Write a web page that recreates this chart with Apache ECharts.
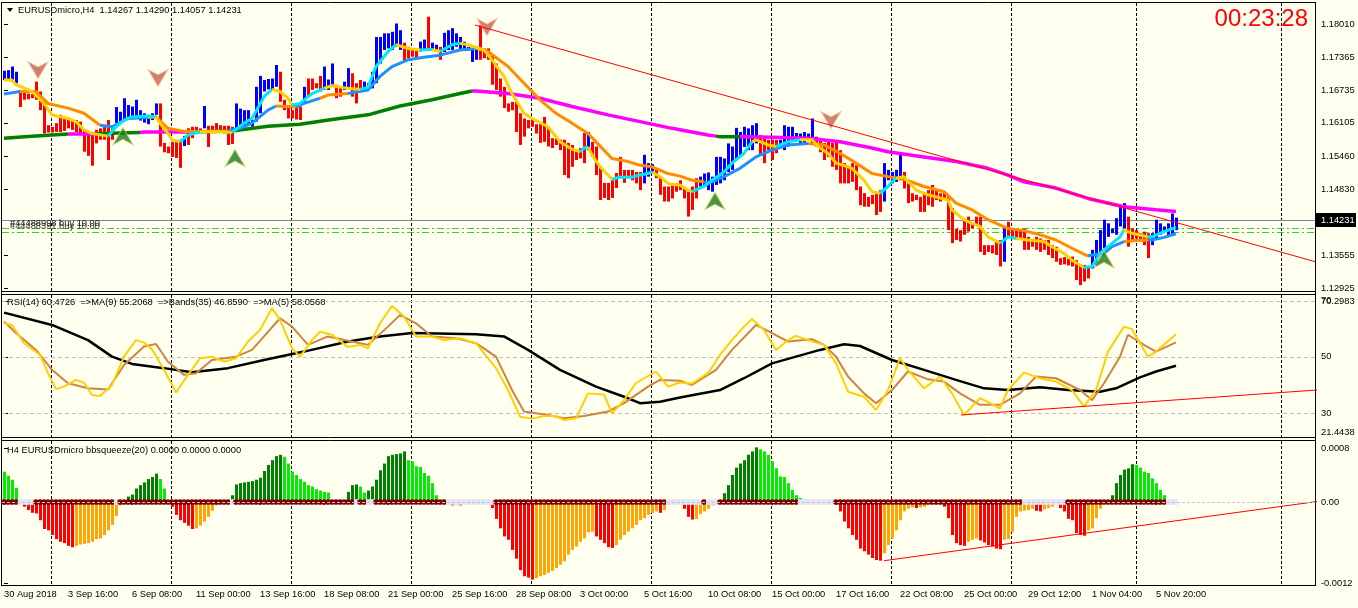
<!DOCTYPE html>
<html>
<head>
<meta charset="utf-8">
<script src="https://cdn.jsdelivr.net/npm/echarts@6.0.0/dist/echarts.min.js"></script>
<style>
html,body{margin:0;padding:0;background:#FFFFF0;overflow:hidden}
#chart{width:1358px;height:608px}
</style>
</head>
<body>
<div id="chart"></div>
<script>
// ---------------- DATA ----------------
const symbolTitle = "EURUSDmicro,H4  1.14267 1.14290 1.14057 1.14231";
const clockText = "00:23:28";
const rsiCaption = "RSI(14) 60.4726  =>MA(9) 55.2068  =>Bands(35) 46.8590  =>MA(5) 58.0568";
const histCaption = "H4 EURUSDmicro bbsqueeze(20) 0.0000 0.0000 0.0000";
const orderTexts = ["#44488998 buy 10.00", "#44488391 buy 10.00"];

const timeIdx = [0,16,32,48,64,80,96,112,128,144,160,176,192,208,224,240,256,272,288];
const timeLabels = ["30 Aug 2018","3 Sep 16:00","6 Sep 08:00","11 Sep 00:00","13 Sep 16:00","18 Sep 08:00","21 Sep 00:00","25 Sep 16:00","28 Sep 08:00","3 Oct 00:00","5 Oct 16:00","10 Oct 08:00","15 Oct 00:00","17 Oct 16:00","22 Oct 08:00","25 Oct 00:00","29 Oct 12:00","1 Nov 04:00","5 Nov 20:00"];
const gridLineIdx = [11.75,41.75,71.75,101.75,131.75,161.75,191.75,221.75,251.75,283,319.25];

const priceTicks = [1.18010,1.17365,1.16735,1.16105,1.15460,1.14830,1.13555,1.12925];
const rsiTicks = [70,50,30];
const rsiMax = 70.2983, rsiMin = 21.4438;
const rsiLevels = [70,50,30];
const histTicks = [0.0008,0,-0.0012];
const lastPrice = 1.14231;
const orderLevels = [1.14081,1.14004];

// Heiken-Ashi style bars: top / bottom of each bar, direction b=up(blue) r=down(red)
const barHigh = [
1.1711,1.1712,1.1719,1.1709,1.1674,1.1671,1.1667,1.1666,1.1690,1.1671,
1.1655,1.1606,1.1603,1.1610,1.1626,1.1622,1.1619,1.1616,1.1616,1.1613,
1.1597,1.1590,1.1593,1.1597,1.1600,1.1605,1.1616,1.1600,1.1641,1.1632,
1.1658,1.1645,1.1642,1.1655,1.1635,1.1629,1.1626,1.1629,1.1648,1.1648,
1.1572,1.1565,1.1574,1.1578,1.1578,1.1585,1.1600,1.1603,1.1603,1.1600,
1.1643,1.1605,1.1605,1.1610,1.1606,1.1605,1.1605,1.1603,1.1648,1.1638,
1.1635,1.1635,1.1616,1.1680,1.1701,1.1693,1.1695,1.1696,1.1722,1.1709,
1.1655,1.1642,1.1635,1.1648,1.1642,1.1680,1.1696,1.1696,1.1687,1.1701,
1.1719,1.1694,1.1725,1.1684,1.1680,1.1690,1.1716,1.1706,1.1687,1.1693,
1.1690,1.1687,1.1709,1.1776,1.1776,1.1783,1.1783,1.1786,1.1802,1.1789,
1.1765,1.1757,1.1754,1.1752,1.1767,1.1771,1.1815,1.1765,1.1761,1.1757,
1.1784,1.1789,1.1793,1.1783,1.1776,1.1767,1.1757,1.1754,1.1751,1.1799,
1.1754,1.1754,1.1741,1.1725,1.1696,1.1680,1.1648,1.1651,1.1651,1.1629,
1.1619,1.1616,1.1616,1.1608,1.1608,1.1622,1.1600,1.1581,1.1581,1.1578,
1.1578,1.1572,1.1568,1.1558,1.1562,1.1591,1.1593,1.1574,1.1565,1.1526,
1.1495,1.1495,1.1500,1.1514,1.1545,1.1520,1.1520,1.1520,1.1516,1.1516,
1.1549,1.1533,1.1531,1.1523,1.1507,1.1488,1.1488,1.1494,1.1494,1.1500,
1.1484,1.1478,1.1488,1.1504,1.1507,1.1513,1.1515,1.1507,1.1545,1.1545,
1.1542,1.1571,1.1565,1.1601,1.1593,1.1603,1.1600,1.1606,1.1610,1.1587,
1.1581,1.1578,1.1578,1.1578,1.1578,1.1606,1.1603,1.1603,1.1591,1.1590,
1.1593,1.1590,1.1619,1.1584,1.1578,1.1572,1.1578,1.1572,1.1572,1.1558,
1.1533,1.1526,1.1533,1.1529,1.1488,1.1475,1.1468,1.1472,1.1475,1.1481,
1.1533,1.1520,1.1516,1.1520,1.1552,1.1516,1.1494,1.1475,1.1472,1.1468,
1.1475,1.1481,1.1491,1.1481,1.1475,1.1475,1.1472,1.1446,1.1407,1.1404,
1.1424,1.1430,1.1417,1.1430,1.1430,1.1375,1.1375,1.1375,1.1382,1.1385,
1.1411,1.1420,1.1407,1.1404,1.1404,1.1407,1.1391,1.1385,1.1391,1.1388,
1.1385,1.1385,1.1375,1.1372,1.1350,1.1352,1.1349,1.1353,1.1346,1.1337,
1.1337,1.1335,1.1366,1.1385,1.1404,1.1424,1.1417,1.1407,1.1427,1.1449,
1.1456,1.1430,1.1407,1.1404,1.1398,1.1401,1.1398,1.1398,1.1424,1.1417,
1.1411,1.1417,1.1436,1.1428];
const barLow = [
1.1693,1.1693,1.1690,1.1687,1.1641,1.1655,1.1656,1.1658,1.1655,1.1635,
1.1590,1.1592,1.1592,1.1593,1.1593,1.1595,1.1600,1.1597,1.1593,1.1590,
1.1555,1.1547,1.1528,1.1571,1.1578,1.1578,1.1539,1.1578,1.1610,1.1613,
1.1616,1.1619,1.1621,1.1619,1.1615,1.1611,1.1608,1.1616,1.1626,1.1565,
1.1554,1.1552,1.1545,1.1543,1.1524,1.1566,1.1568,1.1581,1.1590,1.1592,
1.1600,1.1564,1.1593,1.1595,1.1593,1.1590,1.1568,1.1570,1.1597,1.1598,
1.1603,1.1608,1.1603,1.1613,1.1629,1.1671,1.1675,1.1674,1.1680,1.1651,
1.1635,1.1619,1.1619,1.1617,1.1616,1.1648,1.1661,1.1674,1.1677,1.1671,
1.1674,1.1674,1.1684,1.1658,1.1661,1.1674,1.1677,1.1661,1.1648,1.1671,
1.1677,1.1674,1.1677,1.1687,1.1725,1.1751,1.1754,1.1751,1.1757,1.1751,
1.1728,1.1735,1.1738,1.1737,1.1748,1.1751,1.1751,1.1751,1.1748,1.1732,
1.1747,1.1751,1.1751,1.1757,1.1751,1.1751,1.1750,1.1728,1.1732,1.1732,
1.1735,1.1732,1.1684,1.1674,1.1661,1.1639,1.1632,1.1635,1.1593,1.1568,
1.1584,1.1600,1.1603,1.1590,1.1572,1.1574,1.1565,1.1562,1.1568,1.1558,
1.1510,1.1504,1.1526,1.1539,1.1542,1.1533,1.1558,1.1545,1.1510,1.1462,
1.1466,1.1462,1.1466,1.1485,1.1507,1.1495,1.1507,1.1500,1.1494,1.1481,
1.1494,1.1507,1.1513,1.1504,1.1472,1.1459,1.1459,1.1465,1.1478,1.1481,
1.1465,1.1430,1.1443,1.1465,1.1488,1.1488,1.1481,1.1478,1.1491,1.1494,
1.1500,1.1516,1.1520,1.1539,1.1545,1.1564,1.1558,1.1558,1.1571,1.1549,
1.1533,1.1558,1.1539,1.1552,1.1564,1.1558,1.1565,1.1574,1.1578,1.1571,
1.1571,1.1578,1.1571,1.1565,1.1554,1.1539,1.1545,1.1526,1.1520,1.1494,
1.1494,1.1494,1.1497,1.1481,1.1452,1.1449,1.1449,1.1454,1.1433,1.1439,
1.1459,1.1500,1.1494,1.1497,1.1500,1.1484,1.1456,1.1459,1.1462,1.1439,
1.1439,1.1452,1.1449,1.1462,1.1459,1.1465,1.1404,1.1379,1.1385,1.1382,
1.1395,1.1401,1.1407,1.1414,1.1362,1.1356,1.1362,1.1359,1.1356,1.1334,
1.1343,1.1391,1.1391,1.1388,1.1385,1.1366,1.1366,1.1372,1.1366,1.1362,
1.1366,1.1356,1.1350,1.1343,1.1337,1.1338,1.1336,1.1334,1.1308,1.1298,
1.1305,1.1311,1.1330,1.1337,1.1359,1.1369,1.1391,1.1398,1.1395,1.1411,
1.1407,1.1372,1.1385,1.1388,1.1385,1.1375,1.1350,1.1375,1.1385,1.1395,
1.1401,1.1391,1.1395,1.1404];
const barDir = ["bbbbrrrrrr","rrrrrrrrrr","rrrrrrrrbb","bbbbbbbbbr","rrrrrbrrrr","brrrrrrrbb","bbbbbbbbbr","rrrrrbrrrr","bbbrrbbrrr","bbbbbbbbbb",
"rrrrbbrbbr","bbbbbbbbbr","rrrrrrrrrr","rrrrrrrrrr","rrrrrrbrrr","rrrrrrrrrr","bbbrrrrrrr","rrrrbbbbbb","bbbbbbbbbr","rrrrbbbbbb",
"bbbrrrrrrr","rrrrrrrrrr","bbbbbrrrrr","rrrrrrrrrr","rrrrrrrrrr","brrrrrrrrr","rrrrrrrrrr","rrbbbbbbbb","brrrrrrbbb","bbbb"].join('');

// moving averages: [bar, price, state u=rising d=falling]
const fastMA = [[0,1.1693,'u'],[2,1.1693,'d'],[3,1.1684,'d'],[7,1.1671,'d'],[10,1.1648,'d'],[12,1.1626,'d'],[16,1.1619,'d'],[18,1.1613,'d'],[20,1.1597,'d'],[22,1.1590,'d'],[26,1.1585,'d'],[28,1.1603,'u'],[30,1.1616,'u'],[32,1.1622,'u'],[36,1.1624,'u'],[38,1.1622,'u'],[39,1.1610,'d'],[41,1.1590,'d'],[42,1.1578,'d'],[44,1.1574,'d'],[46,1.1587,'u'],[49,1.1593,'u'],[53,1.1594,'d'],[57,1.1592,'d'],[60,1.1610,'u'],[62,1.1619,'u'],[65,1.1661,'u'],[67,1.1675,'u'],[69,1.1671,'d'],[71,1.1658,'d'],[72,1.1645,'d'],[74,1.1648,'u'],[77,1.1667,'u'],[80,1.1677,'u'],[82,1.1682,'d'],[86,1.1677,'d'],[89,1.1675,'d'],[91,1.1679,'u'],[93,1.1719,'u'],[96,1.1748,'u'],[98,1.1761,'u'],[101,1.1754,'d'],[104,1.1751,'d'],[107,1.1752,'u'],[109,1.1748,'d'],[112,1.1761,'u'],[114,1.1764,'u'],[116,1.1761,'d'],[120,1.1751,'d'],[122,1.1732,'d'],[125,1.1700,'d'],[127,1.1667,'d'],[130,1.1629,'d'],[132,1.1619,'d'],[136,1.1603,'d'],[138,1.1584,'d'],[139,1.1574,'d'],[142,1.1560,'d'],[144,1.1555,'d'],[145,1.1562,'u'],[146,1.1564,'u'],[147,1.1549,'d'],[149,1.1526,'d'],[151,1.1510,'d'],[152,1.1502,'d'],[154,1.1506,'u'],[157,1.1506,'u'],[159,1.1510,'u'],[161,1.1513,'u'],[162,1.1516,'u'],[164,1.1507,'d'],[166,1.1494,'d'],[167,1.1492,'d'],[169,1.1491,'d'],[171,1.1481,'d'],[172,1.1478,'d'],[175,1.1488,'u'],[177,1.1500,'u'],[180,1.1516,'u'],[182,1.1533,'u'],[185,1.1552,'u'],[187,1.1574,'u'],[188,1.1578,'d'],[191,1.1568,'d'],[193,1.1565,'d'],[196,1.1574,'u'],[199,1.1578,'u'],[202,1.1578,'d'],[204,1.1562,'d'],[206,1.1552,'d'],[208,1.1533,'d'],[211,1.1526,'d'],[212,1.1523,'d'],[215,1.1500,'d'],[217,1.1478,'d'],[219,1.1475,'d'],[221,1.1488,'u'],[222,1.1497,'u'],[223,1.1504,'u'],[225,1.1507,'d'],[228,1.1481,'d'],[231,1.1472,'d'],[233,1.1468,'d'],[236,1.1462,'d'],[237,1.1443,'d'],[240,1.1424,'d'],[242,1.1417,'d'],[244,1.1411,'d'],[246,1.1391,'d'],[249,1.1379,'d'],[251,1.1391,'u'],[253,1.1388,'u'],[256,1.1385,'d'],[260,1.1382,'d'],[262,1.1372,'d'],[265,1.1359,'d'],[267,1.1346,'d'],[270,1.1332,'d'],[272,1.1334,'u'],[274,1.1359,'u'],[276,1.1372,'u'],[279,1.1391,'u'],[280,1.1404,'u'],[282,1.1398,'d'],[286,1.1391,'d'],[287,1.1391,'u'],[290,1.1401,'u'],[293,1.1409,'u']];
const slowMA = [[0,1.1666,'u'],[4,1.1671,'u'],[8,1.1671,'d'],[11,1.1648,'d'],[16,1.1639,'d'],[20,1.1629,'d'],[24,1.1606,'d'],[27,1.1603,'u'],[31,1.1619,'u'],[36,1.1621,'u'],[38,1.1622,'d'],[41,1.1600,'d'],[45,1.1594,'d'],[49,1.1594,'d'],[56,1.1595,'d'],[59,1.1600,'u'],[62,1.1610,'u'],[66,1.1635,'u'],[68,1.1643,'u'],[71,1.1642,'d'],[73,1.1641,'d'],[75,1.1648,'u'],[79,1.1658,'u'],[81,1.1664,'d'],[86,1.1667,'d'],[91,1.1674,'u'],[94,1.1700,'u'],[97,1.1719,'u'],[101,1.1732,'u'],[105,1.1737,'u'],[109,1.1741,'u'],[114,1.1751,'u'],[118,1.1754,'u'],[121,1.1748,'d'],[126,1.1719,'d'],[130,1.1687,'d'],[134,1.1655,'d'],[138,1.1629,'d'],[142,1.1610,'d'],[146,1.1590,'d'],[148,1.1574,'d'],[152,1.1542,'d'],[156,1.1536,'d'],[159,1.1529,'d'],[162,1.1526,'d'],[166,1.1513,'d'],[169,1.1508,'d'],[172,1.1500,'d'],[175,1.1497,'d'],[176,1.1494,'u'],[180,1.1507,'u'],[184,1.1523,'u'],[188,1.1545,'u'],[192,1.1558,'u'],[196,1.1568,'u'],[201,1.1571,'u'],[205,1.1568,'d'],[209,1.1552,'d'],[213,1.1533,'d'],[217,1.1513,'d'],[221,1.1507,'d'],[225,1.1502,'d'],[230,1.1488,'d'],[235,1.1478,'d'],[238,1.1456,'d'],[242,1.1443,'d'],[246,1.1424,'d'],[251,1.1407,'d'],[255,1.1403,'d'],[259,1.1395,'d'],[263,1.1385,'d'],[267,1.1369,'d'],[271,1.1354,'d'],[272,1.1356,'u'],[275,1.1359,'u'],[277,1.1372,'u'],[280,1.1382,'u'],[283,1.1384,'d'],[286,1.1385,'d'],[287,1.1385,'u'],[290,1.1390,'u'],[293,1.1397,'u']];
const longMA = [[0,1.1581,'u'],[7,1.1585,'u'],[16,1.1589,'u'],[17,1.1589,'d'],[23,1.1589,'d'],[24,1.1590,'u'],[34,1.1592,'u'],[35,1.1593,'d'],[46,1.1593,'d'],[47,1.1593,'u'],[57,1.1595,'u'],[66,1.1604,'u'],[74,1.1608,'u'],[82,1.1617,'u'],[91,1.1626,'u'],[99,1.1643,'u'],[107,1.1655,'u'],[114,1.1667,'u'],[117,1.1672,'u'],[118,1.1672,'d'],[126,1.1667,'d'],[134,1.1658,'d'],[142,1.1642,'d'],[151,1.1626,'d'],[159,1.1613,'d'],[167,1.1600,'d'],[176,1.1587,'d'],[178,1.1585,'d'],[179,1.1584,'u'],[184,1.1584,'u'],[185,1.1584,'d'],[192,1.1583,'d'],[201,1.1581,'d'],[209,1.1574,'d'],[217,1.1562,'d'],[221,1.1555,'d'],[230,1.1545,'d'],[238,1.1536,'d'],[246,1.1523,'d'],[251,1.1510,'d'],[255,1.1497,'d'],[263,1.1485,'d'],[271,1.1465,'d'],[280,1.1449,'d'],[288,1.1443,'d'],[293,1.1440,'d']];

const sellArrows = [[8.5,1.1712],[38.5,1.1697],[120.75,1.1795],[206.75,1.1616]];
const buyArrows = [[29.75,1.1585],[57.75,1.1543],[177.75,1.1460],[275,1.1348]];
const priceTrend = [[117.75,1.1799],[327.75,1.13432]];

// RSI window
const rsiBands = [[0,65.8],[12,61.4],[21,56],[27,50.1],[32,47.5],[40,46],[47,44.5],[56,46],[65,48.9],[75,51.9],[86,55.5],[94,57.3],[102,58.5],[118,58.1],[125,57.3],[131,52.5],[139,45.4],[148,39.4],[155,35.8],[159,33.5],[164,34],[169,35.5],[179,38.2],[185,42.4],[192,47.7],[198,50.1],[204,52.5],[210,54.5],[214,53.9],[222,48.9],[230,45.4],[238,41.8],[245,38.8],[251,38.2],[259,39.2],[266,38.2],[274,37.6],[278,38.8],[284,42.7],[288,44.8],[293,46.86]];
const rsiMA9 = [[0,62.6],[3,58.5],[8,52.5],[12,45.4],[16,40.6],[21,38.8],[26,38.4],[30,47.1],[35,53.7],[38,54.6],[41,48.3],[45,43.6],[48,44.2],[52,48.9],[58,50.1],[62,52.5],[65,57.3],[69,63.8],[72,60.8],[76,54.3],[81,57.3],[86,55.8],[91,54.3],[96,60.8],[99,65],[103,62],[107,57.3],[113,56.7],[118,54.9],[123,50.1],[127,38.2],[130,30.5],[136,29.3],[140,28.1],[145,28.9],[151,30.5],[155,33.5],[161,39.4],[164,41.8],[169,41.5],[172,40],[178,45.4],[182,52.5],[188,61.4],[192,58.5],[196,55.5],[202,56.3],[205,54.3],[208,50.1],[211,43],[215,37],[218,33.5],[222,38.2],[226,44.8],[231,42],[235,41.2],[239,37],[244,32.9],[249,32.9],[254,37],[258,43],[263,42.4],[269,38.2],[272,34.6],[275,40.6],[279,50.1],[281,57.9],[285,54.3],[288,51.9],[293,55.2]];
const rsiMA5 = [[0,62],[2,61.4],[5,54.9],[9,50.7],[11,44.2],[13,38.5],[15,39.4],[18,41.8],[20,40.8],[22,36.4],[24,36.1],[27,40],[30,50.1],[33,56],[35,55.1],[37,52.7],[40,45.4],[43,37.3],[46,43.6],[49,49.5],[52,50.1],[55,48.3],[58,49.5],[61,55.5],[64,59.6],[67,67.4],[69,63.2],[72,53.1],[74,50.1],[77,56],[79,59],[82,57.9],[86,53.5],[89,54.3],[91,53.1],[94,62],[97,68.2],[100,64.4],[103,57.3],[107,57.3],[110,56],[114,56.7],[118,54.9],[123,46],[126,38.2],[129,28.7],[132,28],[135,28.9],[138,28.9],[140,27.5],[143,28.1],[146,37],[150,36.6],[152,29.9],[155,34.6],[158,40.7],[163,44.8],[166,39.4],[169,40.9],[172,40.5],[176,44.2],[179,50.7],[182,56],[185,60.8],[187,63.5],[190,59.6],[193,52.5],[196,56],[198,57.5],[201,56],[205,54.3],[208,47.7],[211,37.6],[215,35.8],[218,31.1],[221,38.2],[224,49.5],[226,45.4],[230,38.8],[234,43],[237,37],[240,29.3],[244,35.3],[249,31.7],[251,38.2],[255,44.4],[259,42.4],[263,41.2],[267,38.2],[270,32.3],[273,38.2],[276,51.9],[280,60.8],[282,59.9],[286,50.1],[288,51.9],[293,58.06]];
const rsiTrend = [[239.25,29.3],[328.25,38.2]];

// bbsqueeze window
const hist = [
0.00045,0.00039,0.00033,0.00021,0,-0.00007,-0.00012,-0.00016,-0.00017,-0.00027,
-0.00040,-0.00042,-0.00049,-0.00055,-0.00059,-0.00061,-0.00065,-0.00067,-0.00065,-0.00063,
-0.00062,-0.00061,-0.00059,-0.00055,-0.00054,-0.00049,-0.00042,-0.00034,-0.00021,-0.00005,
0.00003,0.00008,0.00011,0.00020,0.00025,0.00029,0.00034,0.00037,0.00042,0.00034,
0.00020,0,-0.00007,-0.00019,-0.00027,-0.00031,-0.00035,-0.00040,-0.00039,-0.00035,
-0.00029,-0.00022,-0.00013,-0.00005,-0.00003,0,0,0.00010,0.00026,0.00028,
0.00029,0.00030,0.00031,0.00033,0.00036,0.00046,0.00055,0.00062,0.00068,0.00070,
0.00067,0.00057,0.00045,0.00040,0.00034,0.00030,0.00025,0.00023,0.00019,0.00017,
0.00015,0.00014,0.00001,0,0,0,0.00015,0.00025,0.00026,0.00023,
0.00014,0.00017,0.00023,0.00033,0.00047,0.00057,0.00068,0.00070,0.00071,0.00072,
0.00075,0.00062,0.00060,0.00053,0.00052,0.00043,0.00039,0.00028,0.00010,0,
0,0,-0.00005,-0.00004,-0.00005,-0.00003,0,0,0.00002,0,
0,0,-0.00009,-0.00025,-0.00039,-0.00051,-0.00056,-0.00071,-0.00084,-0.00101,
-0.00110,-0.00112,-0.00115,-0.00113,-0.00110,-0.00108,-0.00105,-0.00102,-0.00098,-0.00093,
-0.00088,-0.00078,-0.00071,-0.00066,-0.00059,-0.00054,-0.00045,-0.00044,-0.00051,-0.00056,
-0.00061,-0.00067,-0.00068,-0.00064,-0.00056,-0.00049,-0.00044,-0.00039,-0.00034,-0.00027,
-0.00024,-0.00019,-0.00016,-0.00014,-0.00016,-0.00012,0,0,0,0,
-0.00010,-0.00022,-0.00026,-0.00025,-0.00018,-0.00014,-0.00010,-0.00005,-0.00002,0,
0.00013,0.00025,0.00040,0.00051,0.00057,0.00062,0.00070,0.00075,0.00081,0.00078,
0.00075,0.00070,0.00060,0.00050,0.00038,0.00037,0.00028,0.00018,0.00010,0.00006,
0.00004,0.00003,0,0,0,0,0,0,-0.00003,-0.00014,
-0.00029,-0.00039,-0.00049,-0.00056,-0.00069,-0.00073,-0.00078,-0.00083,-0.00086,-0.00087,
-0.00076,-0.00064,-0.00054,-0.00042,-0.00027,-0.00014,-0.00010,-0.00008,-0.00009,-0.00008,
-0.00007,0,0,0,0,-0.00007,-0.00024,-0.00049,-0.00061,-0.00064,
-0.00065,-0.00059,-0.00056,-0.00054,-0.00057,-0.00060,-0.00064,-0.00066,-0.00069,-0.00070,
-0.00056,-0.00055,-0.00044,-0.00022,-0.00014,-0.00013,-0.00012,-0.00010,-0.00013,-0.00014,
-0.00011,-0.00009,-0.00007,0,-0.00009,-0.00014,-0.00025,-0.00027,-0.00046,-0.00049,
-0.00050,-0.00042,-0.00039,-0.00024,-0.00010,0,0.00003,0.00010,0.00028,0.00040,
0.00048,0.00050,0.00056,0.00055,0.00051,0.00045,0.00043,0.00035,0.00028,0.00018,
0.00010,0,0,0];
// squeeze state per bar: r = squeeze on (dark red dot), l = off (lavender)
const squeeze = ["rrrrllllrr","rrrrrrrrrr","rrrrrrrrlr","rrrrrrrrrr","rrrrrrrrrr","rrrrrrrlrr","rrrrrrrrrr","rrrrrrrrrr","rrrrrrrrlr","rllrrrrrrr",
"rrrrrrrrrr","rlllllllll","lllrrrrrrr","rrrrrrrrrr","rrrrrrrrrr","rrrrrrrrrr","rrrrrrllll","lllllrlllr","rrrrrrrrrr","rrrrrrrrrl",
"llllllllrr","rrrrrrrrrr","rrrrrrrrrr","rrrrrrrrrr","rrrrrrrrrr","rrrrrlllll","llllllrrrr","rrrrrrrrrr","rrrrrrrrrr","rlll"].join('');
const histTrend = [[220,-0.00087],[328.25,0.0000074]];

// ---------------- CHART ----------------
const FONT = '"Liberation Sans", Arial, sans-serif';
const FS = 9.3;
const X0 = -0.5, X1 = 327.75;
const chart = echarts.init(document.getElementById('chart'), null, {renderer:'canvas'});

const C = {
  up:'#0000FF', down:'#FF0000',
  fastU:'#00E8F8', fastD:'#FFD000', slowU:'#1E90FF', slowD:'#FF8C00', longU:'#008000', longD:'#FF00FF',
  hGreen:'#008000', hLime:'#00EE00', hRed:'#FF0000', hOrange:'#FFA500'
};

function segSeries(pts, cu, cd, width, z){
  const out = []; let cur = null, st = null;
  for (let k = 1; k < pts.length; k++){
    const s = pts[k][2];
    if (s !== st){
      cur = {type:'line', xAxisIndex:0, yAxisIndex:0, data:[[pts[k-1][0], pts[k-1][1]]], symbol:'none', showSymbol:false,
             lineStyle:{color: s==='u'?cu:cd, width:width}, silent:true, animation:false, z:z};
      out.push(cur); st = s;
    }
    cur.data.push([pts[k][0], pts[k][1]]);
  }
  return out;
}

function histColor(i){
  const v = hist[i], p = i>0 ? hist[i-1] : 0;
  if (v >= 0) return (i===0 || v < p) ? C.hLime : C.hGreen;
  return v <= p ? C.hRed : C.hOrange;
}

const axisLbl = {color:'#000', fontSize:FS, fontFamily:FONT};
const option = {
  backgroundColor:'#FFFFF0',
  animation:false,
  grid:[
    {left:2, top:4, width:1313, height:287},
    {left:2, top:300, width:1313, height:137},
    {left:2, top:441, width:1313, height:144}
  ],
  xAxis:[
    {gridIndex:0, type:'value', min:X0, max:X1, show:false},
    {gridIndex:1, type:'value', min:X0, max:X1, show:false},
    {gridIndex:2, type:'value', min:X0, max:X1, position:'bottom',
     axisLine:{show:false}, splitLine:{show:false},
     axisTick:{show:true, customValues:timeIdx, length:3, lineStyle:{color:'#000'}},
     axisLabel:Object.assign({customValues:timeIdx, align:'left', margin:5,
       formatter:(v)=>{const k = timeIdx.indexOf(Math.round(v)); return k>=0?timeLabels[k]:'';}}, axisLbl)}
  ],
  yAxis:[
    {gridIndex:0, type:'value', position:'right', min:1.12867, max:1.18395, axisLine:{show:false}, splitLine:{show:false},
     axisTick:{show:true, customValues:priceTicks, length:4, lineStyle:{color:'#000'}},
     axisLabel:Object.assign({customValues:priceTicks, margin:6, formatter:v=>v.toFixed(5)}, axisLbl)},
    {gridIndex:1, type:'value', position:'right', min:rsiMin, max:rsiMax, axisLine:{show:false}, splitLine:{show:false},
     axisTick:{show:true, customValues:rsiTicks, length:4, lineStyle:{color:'#000'}},
     axisLabel:Object.assign({customValues:rsiTicks, margin:6, formatter:v=>String(Math.round(v))}, axisLbl)},
    {gridIndex:2, type:'value', position:'right', min:-0.00123, max:0.000904, axisLine:{show:false}, splitLine:{show:false},
     axisTick:{show:true, customValues:histTicks, length:4, lineStyle:{color:'#000'}},
     axisLabel:Object.assign({customValues:histTicks, margin:6, formatter:v=>(Math.abs(v)<1e-12?'0.00':v.toFixed(4))}, axisLbl)}
  ],
  series:[]
};

// price bars
option.series.push({
  type:'custom', xAxisIndex:0, yAxisIndex:0, z:2, silent:true,
  data: barHigh.map((h,i)=>[i, barLow[i], h]),
  encode:{x:0, y:[1,2]},
  renderItem:(params, api)=>{
    const i = api.value(0);
    const lo = api.coord([i, api.value(1)]);
    const hi = api.coord([i, api.value(2)]);
    const x = Math.round(lo[0]) - 1;
    return {type:'rect', shape:{x:x, y:hi[1], width:3, height:Math.max(1, lo[1]-hi[1])},
            style:{fill: barDir[i]==='b' ? C.up : C.down}};
  }
});
option.series.push(...segSeries(longMA, C.longU, C.longD, 3.5, 3));
option.series.push(...segSeries(slowMA, C.slowU, C.slowD, 3, 4));
option.series.push(...segSeries(fastMA, C.fastU, C.fastD, 3, 5));
option.series.push({type:'scatter', xAxisIndex:0, yAxisIndex:0, z:6, silent:true, data:sellArrows,
  symbol:'path://M0,0 L10,5 L20,0 L10,16 Z', symbolSize:[20,17],
  itemStyle:{color:'#C8604A', borderColor:'#F0C0B0', borderWidth:1}});
option.series.push({type:'scatter', xAxisIndex:0, yAxisIndex:0, z:6, silent:true, data:buyArrows,
  symbol:'path://M10,0 L20,16 L10,11 L0,16 Z', symbolSize:[20,17],
  itemStyle:{color:'#1C7A1C', borderColor:'#D0D070', borderWidth:1}});

// RSI lines
[[rsiBands,'#000000',2.5],[rsiMA9,'#CD853F',2],[rsiMA5,'#FFD000',2]].forEach(([d,c,w])=>{
  option.series.push({type:'line', xAxisIndex:1, yAxisIndex:1, data:d, symbol:'none', showSymbol:false,
    lineStyle:{color:c, width:w}, silent:true, z:4});
});

// histogram
option.series.push({
  type:'custom', xAxisIndex:2, yAxisIndex:2, z:2, silent:true,
  data: hist.map((v,i)=>[i,v]), encode:{x:0,y:1},
  renderItem:(params, api)=>{
    const i = api.value(0), v = api.value(1);
    if (v === 0) return null;
    const z0 = api.coord([i,0]), p = api.coord([i,v]);
    const x = Math.round(z0[0]) - 1;
    const y1 = Math.min(z0[1], p[1]), h = Math.abs(p[1]-z0[1]);
    return {type:'rect', shape:{x:x, y:y1, width:3, height:Math.max(1,h)}, style:{fill:histColor(i)}};
  }
});
// squeeze dots
option.series.push({
  type:'custom', xAxisIndex:2, yAxisIndex:2, z:3, silent:true,
  data: hist.map((v,i)=>[i,0]), encode:{x:0,y:1},
  renderItem:(params, api)=>{
    const i = api.value(0);
    const p = api.coord([i,0]);
    if (squeeze[i]==='r'){
      return {type:'circle', shape:{cx:p[0], cy:p[1], r:2.8}, style:{fill:'#800000'}};
    }
    return {type:'rect', shape:{x:p[0]-2, y:p[1]-2.8, width:4, height:5.6}, style:{fill:'#E3E3F6'}};
  }
});

chart.setOption(option);

// ---------------- OVERLAY GRAPHICS ----------------
function buildGraphics(){
  const g = [];
  const P = (gi, pt) => chart.convertToPixel({gridIndex:gi}, pt);
  const line = (x1,y1,x2,y2,style,z)=>g.push({type:'line', silent:true, z:z||1,
      shape:{x1,x2,y1,y2}, style:Object.assign({stroke:'#000', lineWidth:1}, style)});
  const text = (t,x,y,style,z)=>g.push({type:'text', silent:true, z:z||20,
      style:Object.assign({text:t, x:x, y:y, fill:'#000', fontSize:FS, fontFamily:FONT, verticalAlign:'middle', align:'left'}, style)});

  const panels = [[3,291],[295,437],[441,585]];
  gridLineIdx.forEach(gx=>{
    const x = Math.round(P(0,[gx,1.15])[0]) + 0.5;
    panels.forEach(([a,b])=>line(x,a,x,b,{lineDash:[3,2]}));
  });
  // frames
  line(1.5,2,1.5,586,{}); line(1315.5,2,1315.5,586,{});
  [2.5,291.5,294.5,437.5,440.5,585.5].forEach(y=>line(1,y,1316,y,{}));
  // RSI levels
  rsiLevels.forEach(v=>{ const y = Math.round(P(1,[0,v])[1])+0.5; line(2,y,1315,y,{stroke:'#BEBEBE', lineDash:[4,3]}); });
  // RSI window max / min scale labels
  text(rsiMax.toFixed(4), 1321, Math.round(P(1,[0,rsiMax])[1])+1.5, {}, 20);
  text(rsiMin.toFixed(4), 1321, Math.round(P(1,[0,rsiMin])[1])-5, {}, 20);
  // histogram zero line (drawn over the squeeze dots)
  { const y = Math.round(P(2,[0,0])[1])+0.5; line(2,y,1315,y,{stroke:'#C4C4DC', lineDash:[3,2]}, 40); }
  // order lines
  orderLevels.forEach(v=>{ const y = Math.round(P(0,[0,v])[1])+0.5; line(2,y,1315,y,{stroke:'#32CD32', lineDash:[7,3,2,3]}); });
  // last price line + box
  const yl = Math.round(P(0,[0,lastPrice])[1])+0.5;
  line(2,yl,1315,yl,{stroke:'#778899'});
  g.push({type:'rect', silent:true, z:20, shape:{x:1316, y:yl-7.5, width:40, height:14}, style:{fill:'#000'}});
  text(lastPrice.toFixed(5), 1321, yl, {fill:'#FFFFFF'}, 21);
  // trend lines
  [[0,priceTrend],[1,rsiTrend],[2,histTrend]].forEach(([gi,tr])=>{
    const a = P(gi,tr[0]), b = P(gi,tr[1]);
    line(a[0],a[1],b[0],b[1],{stroke:'#FF0000'},30);
  });
  // texts
  g.push({type:'polygon', silent:true, z:20, shape:{points:[[7,8],[13,8],[10,12]]}, style:{fill:'#000'}});
  text(symbolTitle, 18, 10.5, {});
  text(clockText, 1308, 19, {fill:'#FF0000', fontSize:24, align:'right'});
  text(rsiCaption, 7, 302.5, {});
  text(histCaption, 7, 450.5, {});
  text(orderTexts[1], 10, 226, {fill:'#3A3A3A'});
  text(orderTexts[0], 10, 223.5, {fill:'#202020'});
  chart.setOption({graphic:{elements:g}});
}
buildGraphics();
</script>
</body>
</html>
